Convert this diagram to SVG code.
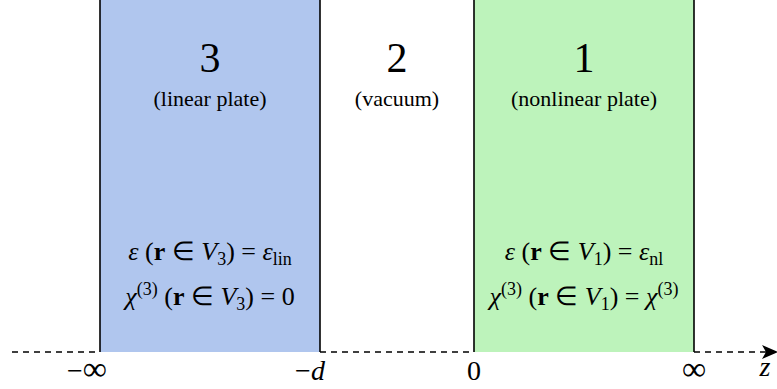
<svg xmlns="http://www.w3.org/2000/svg" width="777" height="389" viewBox="0 0 777 389">
<style>
text{font-family:"Liberation Serif","Times New Roman",serif;fill:#000}
.num{font-size:42px;text-anchor:middle}
.cap{font-size:22px;text-anchor:middle}
.eq{font-size:26px;text-anchor:middle}
.ax{font-size:28px;text-anchor:middle}
.inf{font-size:34px}
.edge{stroke:#000;stroke-width:1.6}
.dash{stroke:#000;stroke-width:1.4;stroke-dasharray:6 5;fill:none}
</style>
<defs>
<marker id="arr" markerWidth="16" markerHeight="14" refX="14" refY="7" orient="auto" markerUnits="userSpaceOnUse">
<path d="M0,0 L16,7 L0,14 L4,7 Z" fill="#000"/>
</marker>
</defs>
<g id="region3">
<rect x="100" y="0" width="220" height="352" fill="#b0c6ee"/>
<text class="num" x="210" y="72">3</text>
<text class="cap" x="210" y="106">(linear plate)</text>
<text class="eq" x="210" y="260"><tspan font-style="italic">ε</tspan> (<tspan font-weight="bold">r</tspan> ∈ <tspan font-style="italic">V</tspan><tspan font-size="18" dy="5">3</tspan><tspan dy="-5">) = </tspan><tspan font-style="italic">ε</tspan><tspan font-size="18" dy="5">lin</tspan></text>
<text class="eq" x="210" y="305"><tspan font-style="italic">χ</tspan><tspan font-size="18" dy="-10">(3)</tspan><tspan dy="10"> (</tspan><tspan font-weight="bold">r</tspan> ∈ <tspan font-style="italic">V</tspan><tspan font-size="18" dy="5">3</tspan><tspan dy="-5">) = 0</tspan></text>
</g>
<g id="region2">
<text class="num" x="397" y="72">2</text>
<text class="cap" x="397" y="106">(vacuum)</text>
</g>
<g id="region1">
<rect x="474" y="0" width="220" height="352" fill="#bdf3bb"/>
<text class="num" x="584" y="72">1</text>
<text class="cap" x="584" y="106">(nonlinear plate)</text>
<text class="eq" x="584" y="260"><tspan font-style="italic">ε</tspan> (<tspan font-weight="bold">r</tspan> ∈ <tspan font-style="italic">V</tspan><tspan font-size="18" dy="5">1</tspan><tspan dy="-5">) = </tspan><tspan font-style="italic">ε</tspan><tspan font-size="18" dy="5">nl</tspan></text>
<text class="eq" x="584" y="305"><tspan font-style="italic">χ</tspan><tspan font-size="18" dy="-10">(3)</tspan><tspan dy="10"> (</tspan><tspan font-weight="bold">r</tspan> ∈ <tspan font-style="italic">V</tspan><tspan font-size="18" dy="5">1</tspan><tspan dy="-5">) = </tspan><tspan font-style="italic">χ</tspan><tspan font-size="18" dy="-10">(3)</tspan></text>
</g>
<g id="connectors">
<line class="edge" x1="100" y1="0" x2="100" y2="352"/>
<line class="edge" x1="320" y1="0" x2="320" y2="352"/>
<line class="edge" x1="474" y1="0" x2="474" y2="352"/>
<line class="edge" x1="694" y1="0" x2="694" y2="352"/>
<line class="dash" x1="12" y1="352" x2="100" y2="352"/>
<line class="dash" x1="320" y1="352" x2="474" y2="352"/>
<line class="dash" x1="694" y1="352" x2="776" y2="352" marker-end="url(#arr)"/>
</g>
<g id="axis-labels">
<text class="ax" x="87" y="380">−<tspan class="inf">∞</tspan></text>
<text class="ax" x="310" y="380">−<tspan font-style="italic">d</tspan></text>
<text class="ax" x="474" y="380">0</text>
<text class="ax inf" x="694" y="380">∞</text>
<text class="ax" x="765" y="376" font-style="italic">z</text>
</g>
</svg>
